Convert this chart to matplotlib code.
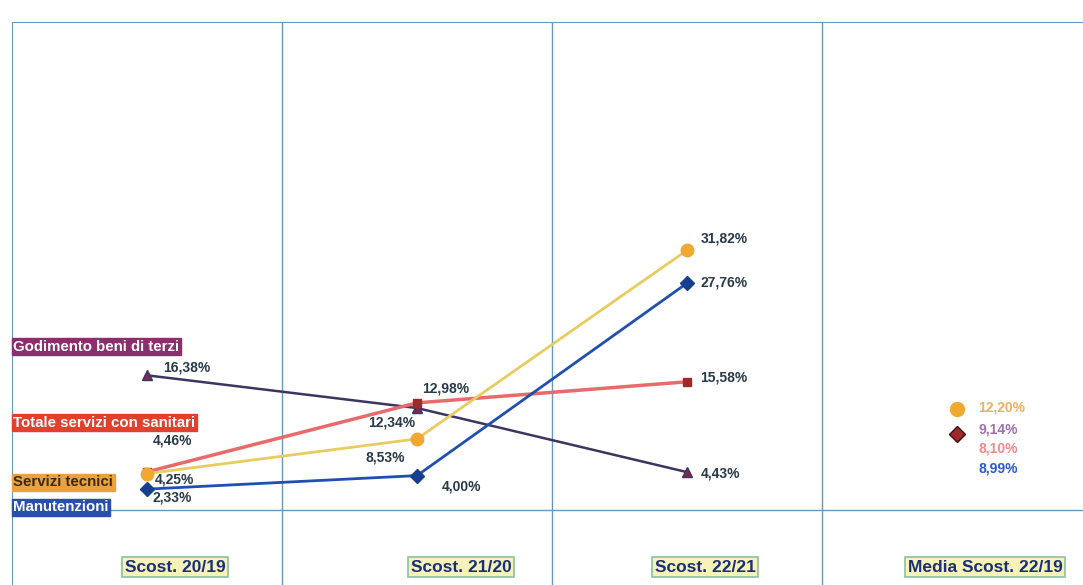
import matplotlib.pyplot as plt

# categories and series values (%)
categories = ['Scost. 20/19', 'Scost. 21/20', 'Scost. 22/21', 'Media Scost. 22/19']
servizi_tecnici = [4.25, 8.53, 31.82]
manutenzioni = [2.33, 4.00, 27.76]
totale_servizi = [4.46, 12.98, 15.58]
godimento = [16.38, 12.34, 4.43]
# average values shown in the last column
media_labels = ['12,20%', '9,14%', '8,10%', '8,99%']
media_values = [12.20, 9.14, 8.10, 8.99]

def fmt(v):
    return f'{v:.2f}'.replace('.', ',') + '%'

fig = plt.figure(figsize=(10.83, 5.85), dpi=100)
ax = fig.add_axes([12 / 1083, 0, 1071 / 1083, 563 / 585])
ax.set_xlim(0, 1071 / 270)
ax.set_ylim(-77 / 8.1, 486 / 8.1)
for s in ['right', 'bottom']:
    ax.spines[s].set_visible(False)
grid_col = '#6a98b6'
ax.spines['top'].set_color(grid_col)
ax.spines['left'].set_color(grid_col)
ax.set_xticks([])
ax.set_yticks([])
for xv in [1, 2, 3]:
    ax.axvline(xv, color=grid_col, lw=1)
ax.axhline(-0.25, color=grid_col, lw=1)

x = [0.5, 1.5, 2.5]
ax.plot(x, godimento, color='#3d3560', lw=1.8, marker='^', ms=7, mfc='#7a2a5a', mec='#3d3560', zorder=3)
ax.plot(x, totale_servizi, color='#e86a6a', lw=2.5, marker='s', ms=6, mfc='#a02828', mec='#a02828', zorder=3)
ax.plot(x, servizi_tecnici, color='#e8cc60', lw=2, marker='o', ms=9, mfc='#f0a830', mec='#f0a830', zorder=4)
ax.plot(x, manutenzioni, color='#1f4fb0', lw=2, marker='D', ms=7, mfc='#173f90', mec='#173f90', zorder=5)

txt = dict(fontsize=10, color='#2a3a4a', fontweight='bold', family='Liberation Sans')
# data labels
ax.text(0.56, 17.3, fmt(godimento[0]), ha='left', va='center', **txt)
ax.text(0.52, 8.3, fmt(totale_servizi[0]), ha='left', va='center', **txt)
ax.text(0.53, 3.55, fmt(servizi_tecnici[0]), ha='left', va='center', **txt)
ax.text(0.52, 1.25, fmt(manutenzioni[0]), ha='left', va='center', **txt)
ax.text(1.52, 14.8, fmt(totale_servizi[1]), ha='left', va='center', **txt)
ax.text(1.32, 10.5, fmt(godimento[1]), ha='left', va='center', **txt)
ax.text(1.31, 6.2, fmt(servizi_tecnici[1]), ha='left', va='center', **txt)
ax.text(1.59, 2.7, fmt(manutenzioni[1]), ha='left', va='center', **txt)
ax.text(2.55, 33.3, fmt(servizi_tecnici[2]), ha='left', va='center', **txt)
ax.text(2.55, 27.9, fmt(manutenzioni[2]), ha='left', va='center', **txt)
ax.text(2.55, 16.1, fmt(totale_servizi[2]), ha='left', va='center', **txt)
ax.text(2.55, 4.3, fmt(godimento[2]), ha='left', va='center', **txt)

# series name boxes on the left
names = [('Godimento beni di terzi', 19.9, '#8a2f6e', 'white'),
         ('Totale servizi con sanitari', 10.5, '#e0402c', 'white'),
         ('Servizi tecnici', 3.2, '#eba23c', '#3a2a10'),
         ('Manutenzioni', 0.1, '#2a4fa8', 'white')]
for name, yv, fc, tc in names:
    ax.text(0.005, yv, name, ha='left', va='center', fontsize=10.8, fontweight='bold',
            color=tc, family='Liberation Sans',
            bbox=dict(boxstyle='square,pad=0.1', fc=fc, ec=fc))

# average column
ax.plot(3.5, media_values[0], marker='o', ms=10, color='#f0a830', ls='none', zorder=4)
ax.plot(3.5, media_values[1], marker='D', ms=8, color='#a02828', mec='#3a1010', ls='none', zorder=4)
media_cols = ['#f0b060', '#a070b0', '#f08a8a', '#2a5ad0']
media_y = [12.35, 9.75, 7.4, 4.9]
for lab, yv, c in zip(media_labels, media_y, media_cols):
    ax.text(3.58, yv, lab, ha='left', va='center', fontsize=10, fontweight='bold',
            color=c, family='Liberation Sans')

# category labels
cat_x = [0.604, 1.663, 2.567, 3.604]
for cx, cat in zip(cat_x, categories):
    ax.text(cx, -7.3, cat, ha='center', va='center', fontsize=12.5, fontweight='bold',
            color='#1a2f7a', family='Liberation Sans',
            bbox=dict(boxstyle='square,pad=0.15', fc='#f6f2b8', ec='#8cc0a0', lw=1.2))

fig.savefig('out.png', dpi=100)
